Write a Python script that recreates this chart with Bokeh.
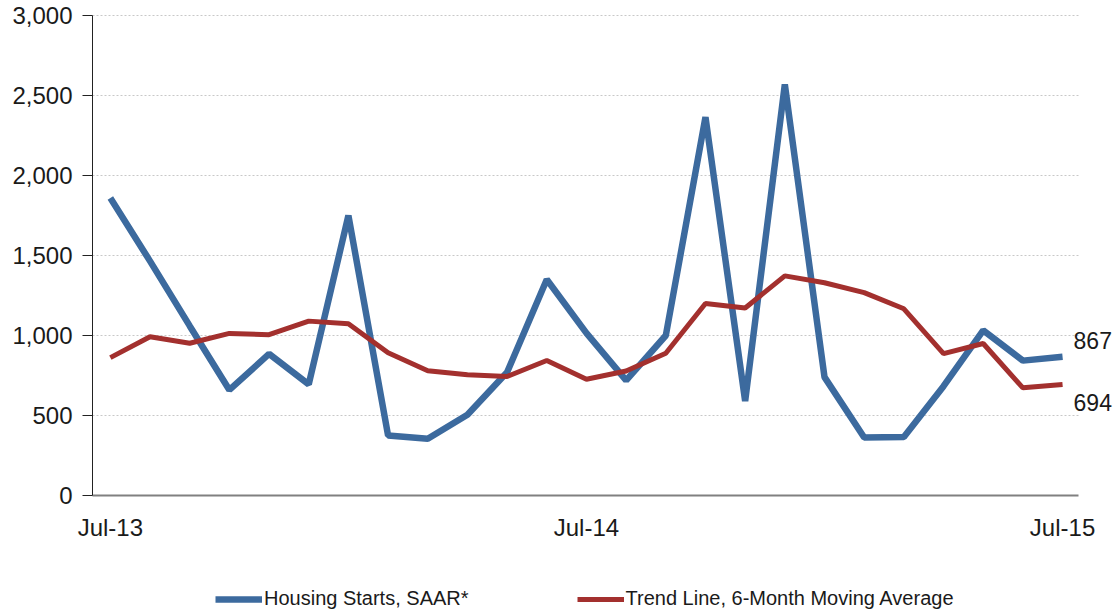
from bokeh.plotting import figure
from bokeh.models import (ColumnDataSource, FixedTicker, NumeralTickFormatter,
                          Legend, LegendItem, Label, Range1d, LinearAxis, Grid)
from bokeh.embed import file_html
from bokeh.resources import INLINE

months = ["Jul-13", "Aug-13", "Sep-13", "Oct-13", "Nov-13", "Dec-13", "Jan-14",
          "Feb-14", "Mar-14", "Apr-14", "May-14", "Jun-14", "Jul-14", "Aug-14",
          "Sep-14", "Oct-14", "Nov-14", "Dec-14", "Jan-15", "Feb-15", "Mar-15",
          "Apr-15", "May-15", "Jun-15", "Jul-15"]
housing_starts = [1860, 1465, 1060, 660, 885, 695, 1750, 375, 355, 505, 770,
                  1350, 1015, 720, 1000, 2365, 590, 2570, 740, 362, 365, 683,
                  1032, 843, 867]
trend_line = [862, 992, 952, 1013, 1005, 1090, 1073, 892, 780, 755, 744, 844,
              727, 778, 889, 1200, 1172, 1373, 1330, 1268, 1167, 887, 950, 673,
              694]
tick_labels = ["Jul-13", "Jul-14", "Jul-15"]
y_ticks = [0, 500, 1000, 1500, 2000, 2500, 3000]
series_names = ["Housing Starts, SAAR*", "Trend Line, 6-Month Moving Average"]

BLUE = "#3C6A9E"
RED = "#A3302E"
FONT = "Liberation Sans"
TXT = "#1a1a1a"

xs = list(range(len(months)))
src = ColumnDataSource(dict(x=xs, hs=housing_starts, tl=trend_line, m=months))

X0, X1 = -0.45, 24.4          # plotting area extent (category padding)
p = figure(width=1118, height=615, output_backend="svg", toolbar_location=None,
           x_range=Range1d(-2.769, 25.41), y_range=Range1d(-750, 3094),
           x_axis_location=None, y_axis_location=None,
           min_border_left=0, min_border_right=0, min_border_top=0,
           min_border_bottom=0)
p.outline_line_color = None
p.background_fill_color = "white"
p.border_fill_color = "white"
for g in p.grid:
    g.visible = False

ygrid = Grid(dimension=1, ticker=FixedTicker(ticks=y_ticks[1:]),
             grid_line_color="#c8c8c8", grid_line_dash="2 2",
             grid_line_width=1, cross_bounds=(X0, X1))
p.add_layout(ygrid)

r_hs = p.line("x", "hs", source=src, line_color=BLUE, line_width=6.5)
r_tl = p.line("x", "tl", source=src, line_color=RED, line_width=5)

# x axis drawn at y = 0 inside the frame
tick_idx = [months.index(t) for t in tick_labels]
xaxis = LinearAxis(fixed_location=0, bounds=(X0, X1),
                   ticker=FixedTicker(ticks=tick_idx),
                   major_label_overrides={i: months[i] for i in tick_idx},
                   major_tick_line_color=None, minor_tick_line_color=None,
                   axis_line_color="#808080", axis_line_width=2,
                   major_label_standoff=12, major_label_text_font=FONT,
                   major_label_text_font_size="24px",
                   major_label_text_color=TXT)
p.add_layout(xaxis, "below")

# y axis drawn at the left edge of the plotting area
yaxis = LinearAxis(fixed_location=X0, bounds=(y_ticks[0], y_ticks[-1]),
                   ticker=FixedTicker(ticks=y_ticks),
                   formatter=NumeralTickFormatter(format="0,0"),
                   major_tick_in=0, major_tick_out=10,
                   minor_tick_line_color=None,
                   axis_line_color="#222222", major_tick_line_color="#222222",
                   major_label_standoff=10, major_label_text_font=FONT,
                   major_label_text_font_size="24px",
                   major_label_text_color=TXT)
p.add_layout(yaxis, "left")

# end labels
for val, yoff in [(housing_starts[-1], 16), (trend_line[-1], -18)]:
    p.add_layout(Label(x=xs[-1], y=val, text=f"{val:,}", x_offset=11,
                       y_offset=yoff, text_baseline="middle",
                       text_font=FONT, text_font_size="23px",
                       text_color=TXT))

legend = Legend(items=[LegendItem(label=series_names[0], renderers=[r_hs]),
                       LegendItem(label=series_names[1], renderers=[r_tl])],
                orientation="horizontal", location=(215, 5),
                glyph_width=47, glyph_height=20, label_height=20,
                label_standoff=2, spacing=108, padding=0, margin=0,
                border_line_color=None, background_fill_alpha=0,
                label_text_font=FONT, label_text_font_size="20px",
                label_text_color=TXT)
p.add_layout(legend, "center")

open("out.html", "w").write(file_html(p, INLINE))
